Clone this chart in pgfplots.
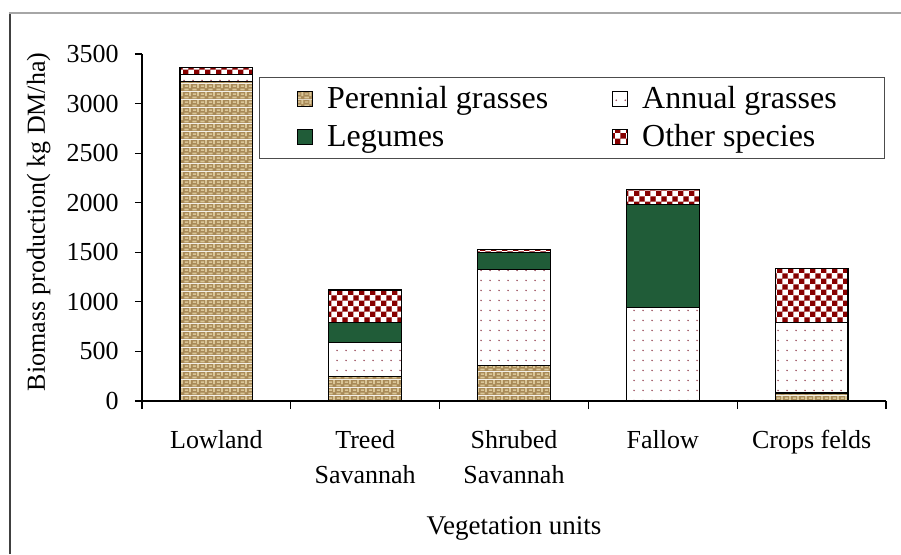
\documentclass[border=0pt]{standalone}
\usepackage{fontspec}
\setmainfont{Liberation Serif}
\usepackage{pgfplots}
\pgfplotsset{compat=1.18}
\usetikzlibrary{patterns}

\definecolor{chkred}{RGB}{135,0,0}
\definecolor{dotcol}{RGB}{150,70,85}
\definecolor{leggreen}{RGB}{32,92,56}
\definecolor{burlapbase}{RGB}{168,138,88}
\definecolor{burlaplight}{RGB}{218,198,152}

\pgfdeclarepatterninherentlycolored{checkerred}{\pgfpointorigin}{\pgfqpoint{5.4pt}{5.4pt}}{\pgfqpoint{5.4pt}{5.4pt}}{%
  \pgfsetfillcolor{white}\pgfpathrectangle{\pgfpointorigin}{\pgfqpoint{5.4pt}{5.4pt}}\pgfusepath{fill}%
  \pgfsetfillcolor{chkred}%
  \pgfpathrectangle{\pgfpointorigin}{\pgfqpoint{2.7pt}{2.7pt}}%
  \pgfpathrectangle{\pgfqpoint{2.7pt}{2.7pt}}{\pgfqpoint{2.7pt}{2.7pt}}%
  \pgfusepath{fill}}

\pgfdeclarepatterninherentlycolored{sparsedots}{\pgfpointorigin}{\pgfqpoint{4.5pt}{5pt}}{\pgfqpoint{4.5pt}{5pt}}{%
  \pgfsetfillcolor{white}\pgfpathrectangle{\pgfpointorigin}{\pgfqpoint{4.5pt}{5pt}}\pgfusepath{fill}%
  \pgfsetfillcolor{dotcol}%
  \pgfpathcircle{\pgfqpoint{2.25pt}{2.5pt}}{0.45pt}\pgfusepath{fill}}

\pgfdeclarepatterninherentlycolored{burlap}{\pgfpointorigin}{\pgfqpoint{4pt}{4pt}}{\pgfqpoint{4pt}{4pt}}{%
  \pgfsetfillcolor{burlapbase}\pgfpathrectangle{\pgfpointorigin}{\pgfqpoint{4pt}{4pt}}\pgfusepath{fill}%
  \pgfsetfillcolor{burlaplight}%
  \pgfpathrectangle{\pgfqpoint{0.2pt}{0.4pt}}{\pgfqpoint{2.4pt}{0.9pt}}%
  \pgfpathrectangle{\pgfqpoint{2.9pt}{1.6pt}}{\pgfqpoint{0.9pt}{2.2pt}}%
  \pgfpathrectangle{\pgfqpoint{0.5pt}{2.3pt}}{\pgfqpoint{1.8pt}{0.8pt}}%
  \pgfusepath{fill}}

\pgfplotsset{
  legsq/.style={legend image code/.code={\draw[##1,draw=black,line width=0.5pt] (0pt,-3.7pt) rectangle (7.4pt,3.7pt);}},
}

\begin{document}
\begin{tikzpicture}
\useasboundingbox (0,0) rectangle (450.5pt,277pt);
\draw[black!75, line width=1pt] (4.75pt,0) -- (4.75pt,270.5pt);
\draw[black!35, line width=1pt] (4.25pt,270.5pt) -- (450.5pt,270.5pt);
\begin{axis}[
  at={(71pt,76.5pt)}, anchor=south west,
  scale only axis, width=372pt, height=173.5pt,
  ybar stacked, bar width=0.49,
  xmin=-0.5, xmax=4.5, ymin=0, ymax=3500,
  ytick={0,500,...,3500},
  xtick={0,1,2,3,4},
  xticklabels={Lowland,Treed\\Savannah,Shrubed\\Savannah,Fallow,Crops felds},
  minor xtick={-0.5,0.5,1.5,2.5,3.5,4.5},
  axis x line=bottom, axis y line=left,
  axis line style={-, line width=0.6pt, black},
  tick align=outside,
  major tick length=3.5pt, minor tick length=4pt,
  major x tick style={draw=none},
  minor x tick style={draw=black, line width=0.6pt},
  y tick style={draw=black, line width=0.6pt},
  /pgf/number format/assume math mode=true,
  scaled y ticks=false,
  yticklabel style={/pgf/number format/1000 sep={}},
  xticklabel style={font=\fontsize{13}{17.5}\selectfont, align=center, anchor=north, inner sep=0pt, yshift=-11pt},
  yticklabel style={font=\fontsize{13}{15}\selectfont, anchor=east, inner sep=0pt, xshift=-8pt},
  xlabel={Vegetation units},
  ylabel={Biomass production( kg DM/ha)},
  every axis x label/.style={at={(axis description cs:0.5,-0.386)}, anchor=base, font=\fontsize{13.5}{16}\selectfont},
  every axis y label/.style={at={(axis description cs:-0.1304,0.516)}, rotate=90, anchor=base, font=\fontsize{13}{16}\selectfont},
  legend columns=2,
  legend cell align=left,
  legend style={at={(axis description cs:0.157,0.934)}, anchor=north west,
    draw=black!70, line width=0.5pt,
    font=\fontsize{16}{19}\selectfont,
    inner xsep=19pt, inner ysep=4.5pt, row sep=6.5pt,
    nodes={inner sep=0pt},
    /tikz/every odd column/.append style={column sep=7pt},
    /tikz/every even column/.append style={column sep=32pt}},
]
\addplot+[legsq, draw=black, line width=0.6pt, pattern=burlap] coordinates {(0,3220) (1,250) (2,355) (3,0) (4,80)};
\addlegendentry{Perennial grasses}
\addplot+[legsq, draw=black, line width=0.6pt, pattern=sparsedots] coordinates {(0,70) (1,340) (2,975) (3,945) (4,715)};
\addlegendentry{Annual grasses\kern5pt}
\addplot+[legsq, draw=black, line width=0.6pt, fill=leggreen] coordinates {(0,0) (1,205) (2,170) (3,1040) (4,0)};
\addlegendentry{Legumes}
\addplot+[legsq, draw=black, line width=0.6pt, pattern=checkerred] coordinates {(0,70) (1,325) (2,30) (3,150) (4,545)};
\addlegendentry{Other species}
\end{axis}
\end{tikzpicture}
\end{document}
